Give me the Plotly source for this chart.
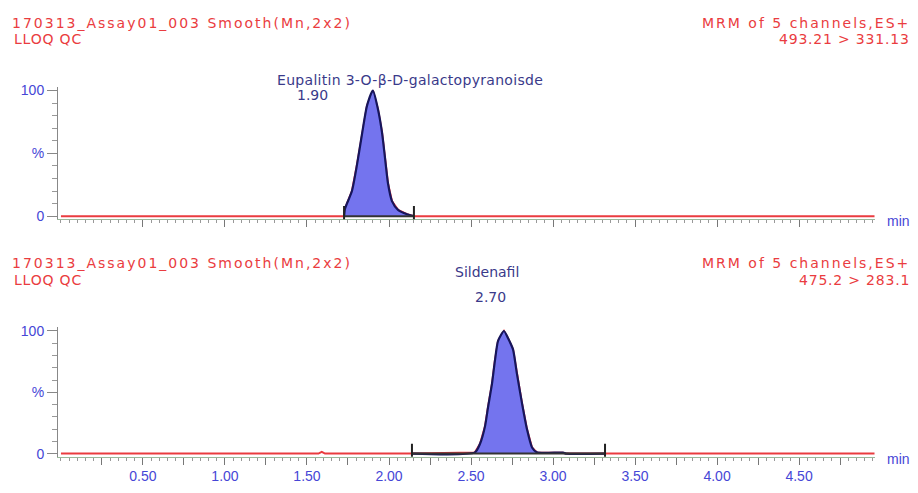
import plotly.graph_objects as go

# ---------------- data ----------------
major_tick_vals = [0.25, 0.5, 0.75, 1.0, 1.25, 1.5, 1.75, 2.0, 2.25, 2.5, 2.75, 3.0, 3.25, 3.5, 3.75, 4.0, 4.25, 4.5, 4.75]
major_tick_text = ["", "0.50", "", "1.00", "", "1.50", "", "2.00", "", "2.50", "", "3.00", "", "3.50", "", "4.00", "", "4.50", ""]
y_tick_vals = [0, 50, 100]
y_tick_text = ["0", "%", "100"]

top_times = [0.00, 1.726, 1.732, 1.774, 1.805, 1.835, 1.866, 1.902, 1.933, 1.957, 1.976, 1.994, 2.018, 2.055, 2.110, 2.152, 4.96]
top_intens = [0, 0, 6, 20, 41, 65, 88, 100, 85, 67, 46, 26, 12, 5, 1.5, 0, 0]
top_markers = [1.726, 2.152]

bot_times = [0.00, 1.57, 1.59, 1.61, 2.140, 2.524, 2.555, 2.585, 2.604, 2.628, 2.646, 2.665, 2.701, 2.726, 2.756,
             2.780, 2.811, 2.841, 2.872, 2.902, 3.061, 3.08, 3.317, 4.96]
bot_intens = [0, 0, 1.5, 0, 0, 1, 8, 22, 38, 57, 76, 92, 100, 94, 85, 65, 41, 20, 5, 1, 0.8, 0, 0, 0]
bot_markers = [2.140, 3.317]

top_title = "170313_Assay01_003 Smooth(Mn,2x2)"
top_sub = "LLOQ QC"
top_mrm = "MRM of 5 channels,ES+"
top_mass = "493.21 > 331.13"
top_cmpd = "Eupalitin 3-O-β-D-galactopyranoisde"
top_rt = "1.90"

bot_title = "170313_Assay01_003 Smooth(Mn,2x2)"
bot_sub = "LLOQ QC"
bot_mrm = "MRM of 5 channels,ES+"
bot_mass = "475.2 > 283.1"
bot_cmpd = "Sildenafil"
bot_rt = "2.70"

# ---------------- styling ----------------
OFF = 8                      # page body margin
W, H = 918 - OFF, 493 - OFF
ML, MR = 50, 43
RED = "#ea3c40"
AXBLUE = "#4646d6"
CMPD = "#3a3a8a"
FILL = "#7474ee"
OUTL = "#16165c"
FONT = "DejaVu Sans"
TFONT = "Liberation Sans"


def px(x):
    return (x - OFF - ML) / (W - ML - MR)


def py(y):
    return 1 - (y - OFF) / H


fig = go.Figure()


def add_panel(times, intens, markers, xa, ya):
    fig.add_trace(go.Scatter(x=times, y=intens, mode="lines", line=dict(color=RED, width=2),
                             xaxis=xa, yaxis=ya, hoverinfo="skip"))
    seg_t = [t for t in times if markers[0] <= t <= markers[1]]
    seg_i = [i for t, i in zip(times, intens) if markers[0] <= t <= markers[1]]
    fig.add_trace(go.Scatter(x=seg_t, y=seg_i, mode="lines", fill="tozeroy", fillcolor=FILL,
                             line=dict(color=OUTL, width=2.2, shape="spline", smoothing=0.6),
                             xaxis=xa, yaxis=ya, hoverinfo="skip"))
    fig.add_trace(go.Scatter(x=markers, y=[0, 0], mode="lines", line=dict(color="#333333", width=2),
                             xaxis=xa, yaxis=ya, hoverinfo="skip"))
    for m in markers:
        fig.add_shape(type="line", xref=xa, yref=ya, x0=m, x1=m, y0=-5, y1=8,
                      line=dict(color="#222222", width=2))


add_panel(top_times, top_intens, top_markers, "x", "y")
add_panel(bot_times, bot_intens, bot_markers, "x2", "y2")

xcommon = dict(range=[-0.018, 4.963], showgrid=False, zeroline=False, showline=True,
               linecolor="#9ab89a", linewidth=1, ticks="outside", ticklen=7, tickcolor="#777777",
               tickvals=major_tick_vals, ticktext=major_tick_text,
               minor=dict(dtick=0.05, tick0=0, ticks="outside", ticklen=3, tickcolor="#999999"),
               tickfont=dict(family=TFONT, size=14, color=AXBLUE))
ycommon = dict(range=[-2.5, 103], showgrid=False, zeroline=False, showline=True,
               linecolor="#888888", linewidth=1, ticks="outside", ticklen=10, tickcolor="#888888",
               tickvals=y_tick_vals, ticktext=y_tick_text,
               minor=dict(dtick=10, tick0=0, ticks="outside", ticklen=5, tickcolor="#999999"),
               tickfont=dict(family=TFONT, size=14, color=AXBLUE))

fig.update_layout(
    width=W, height=H, margin=dict(l=ML, r=MR, t=0, b=0),
    paper_bgcolor="white", plot_bgcolor="white", showlegend=False,
    xaxis=dict(domain=[0, 1], anchor="y", showticklabels=False, **xcommon),
    yaxis=dict(domain=[0.5645, 0.8429], anchor="x", **ycommon),
    xaxis2=dict(domain=[0, 1], anchor="y2", showticklabels=True, **xcommon),
    yaxis2=dict(domain=[0.0658, 0.3376], anchor="x2", **ycommon),
)


def ann(text, x, y, color, size=14, xanchor="left", family=FONT, spacing=None):
    if spacing:
        text = '<span style="letter-spacing:%.1fpx">%s</span>' % (spacing, text)
    fig.add_annotation(text=text, x=px(x), y=py(y), xref="paper", yref="paper",
                       xanchor=xanchor, yanchor="middle", showarrow=False,
                       font=dict(family=family, size=size, color=color))


# top panel texts
ann(top_title, 10, 19, RED, spacing=2.0)
ann(top_sub, 12, 36, RED, spacing=0.8)
ann(top_mrm, 912, 19, RED, xanchor="right", spacing=2.0)
ann(top_mass, 912, 36, RED, xanchor="right", spacing=0.8)
ann(top_cmpd, 275, 77, CMPD, spacing=0.3)
ann(top_rt, 312, 93, CMPD, xanchor="center")
ann("min", 898, 221, AXBLUE, xanchor="center", family=TFONT)

# bottom panel texts
ann(bot_title, 10, 264, RED, spacing=2.0)
ann(bot_sub, 12, 281, RED, spacing=0.8)
ann(bot_mrm, 912, 264, RED, xanchor="right", spacing=2.0)
ann(bot_mass, 912, 281, RED, xanchor="right", spacing=0.8)
ann(bot_cmpd, 487, 273, CMPD, xanchor="center")
ann(bot_rt, 490, 298, CMPD, xanchor="center")
ann("min", 898, 463, AXBLUE, xanchor="center", family=TFONT)

fig.write_html("out.html")
